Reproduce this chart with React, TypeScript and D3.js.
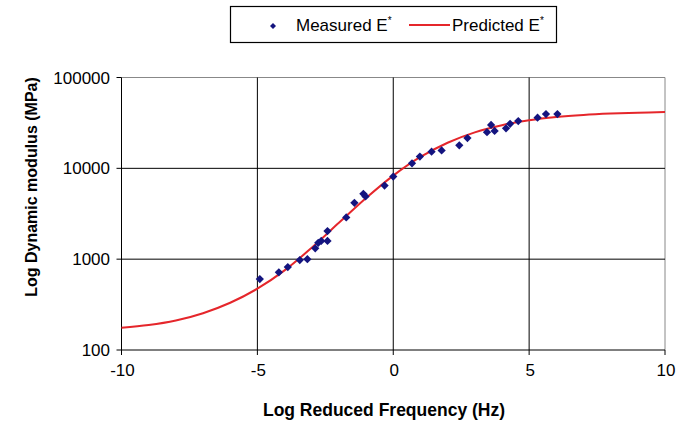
import React from "react";
import * as d3 from "d3";

// Log reduced frequency (Hz) and measured dynamic modulus E* (MPa)
const measuredX = [-4.91, -4.21, -3.88, -3.44, -3.16, -2.87, -2.76, -2.65, -2.42, -2.42, -1.73, -1.43, -1.10, -1.02, -0.32, 0.0, 0.69, 0.98, 1.41, 1.78, 2.43, 2.73, 3.45, 3.60, 3.73, 4.15, 4.30, 4.60, 5.31, 5.62, 6.04];
const measuredE = [603, 716, 818, 977, 1000, 1318, 1514, 1585, 1585, 2042, 2884, 4169, 5248, 4898, 6457, 8128, 11350, 13490, 15240, 15740, 17910, 21530, 25000, 30000, 25820, 27540, 30900, 33190, 36060, 39540, 39630];

// Predicted master curve E* (MPa) read at integer log frequencies
const predictedX = [-10, -9, -8, -7, -6, -5, -4, -3, -2, -1, 0, 1, 2, 3, 4, 5, 6, 7, 8, 9, 10];
const predictedE = [176, 188, 211, 254, 331, 473, 752, 1337, 2512, 4710, 8318, 13335, 19143, 24889, 29854, 33810, 36728, 38726, 40087, 41020, 41591];

const xTicks = [-10, -5, 0, 5, 10];
const yTicks = [100, 1000, 10000, 100000];

const xTitle = "Log Reduced Frequency (Hz)";
const yTitle = "Log Dynamic modulus (MPa)";

export default function App() {
  const W = 691, H = 425;
  const left = 121.5, right = 665, top = 77.5, bottom = 350;
  const x = d3.scaleLinear().domain([-10, 10]).range([left, right]);
  const y = d3.scaleLog().domain([100, 100000]).range([bottom, top]);

  const curve = d3
    .line<number>()
    .x((_, i) => x(predictedX[i]))
    .y((d) => y(d))
    .curve(d3.curveCatmullRom.alpha(0.5))(predictedE) || "";

  const diamond = d3.symbol(d3.symbolSquare, 34)() || "";
  const legendDiamond = d3.symbol(d3.symbolSquare, 18)() || "";

  const font = "'Liberation Sans', Arial, sans-serif";
  const navy = "#14147f";
  const red = "#e5262b";

  return (
    <svg width={W} height={H} style={{ position: "absolute", left: 0, top: 0, background: "#fff" }} fontFamily={font}>
      <rect x={0} y={0} width={W} height={H} fill="#fff" />
      {/* plot border (top/right gray) */}
      <line x1={left} x2={right} y1={top} y2={top} stroke="#888" strokeWidth={1} />
      <line x1={right} x2={right} y1={top} y2={bottom} stroke="#888" strokeWidth={1} />
      {/* gridlines */}
      {yTicks.filter((t) => t !== 100 && t !== 100000).map((t) => (
        <line key={"gy" + t} x1={left} x2={right} y1={y(t)} y2={y(t)} stroke="#000" strokeWidth={1} />
      ))}
      {xTicks.filter((t) => t !== -10 && t !== 10).map((t) => (
        <line key={"gx" + t} x1={x(t)} x2={x(t)} y1={top} y2={bottom} stroke="#000" strokeWidth={1} />
      ))}
      {/* axes */}
      <line x1={left} x2={left} y1={top} y2={bottom} stroke="#000" strokeWidth={1} />
      <line x1={left} x2={right} y1={bottom} y2={bottom} stroke="#000" strokeWidth={1} />
      {yTicks.map((t) => (
        <g key={"ty" + t}>
          <line x1={left - 5} x2={left} y1={y(t)} y2={y(t)} stroke="#000" />
          <text x={110} y={y(t) + 6} textAnchor="end" fontSize={17} fill="#000">{t}</text>
        </g>
      ))}
      {xTicks.map((t) => (
        <g key={"tx" + t}>
          <line x1={x(t)} x2={x(t)} y1={bottom} y2={bottom + 5} stroke="#000" />
          <text x={x(t) + 1} y={376} textAnchor="middle" fontSize={17} fill="#000">{t}</text>
        </g>
      ))}
      {/* predicted curve */}
      <path d={curve} fill="none" stroke={red} strokeWidth={2} />
      {/* measured points */}
      {measuredE.map((e, i) => (
        <path key={"m" + i} d={diamond} transform={`translate(${x(measuredX[i])},${y(e)}) rotate(45)`} fill={navy} />
      ))}
      {/* axis titles */}
      <text x={384} y={416} textAnchor="middle" fontSize={17.5} fontWeight="bold" fill="#000">{xTitle}</text>
      <text transform={`translate(31,187) rotate(-90)`} textAnchor="middle" fontSize={16} fontWeight="bold" fill="#000" dy={6}>{yTitle}</text>
      {/* legend */}
      <rect x={230.5} y={6.5} width={326} height={36} fill="#fff" stroke="#000" strokeWidth={1.2} />
      <path d={legendDiamond} transform="translate(273,26) rotate(45)" fill={navy} />
      <text x={296} y={31} fontSize={17} fill="#000">
        Measured E<tspan fontSize={10} dy={-7}>*</tspan>
      </text>
      <line x1={409} x2={450} y1={25} y2={25} stroke={red} strokeWidth={2} />
      <text x={452} y={31} fontSize={17} fill="#000">
        Predicted E<tspan fontSize={10} dy={-7}>*</tspan>
      </text>
    </svg>
  );
}
